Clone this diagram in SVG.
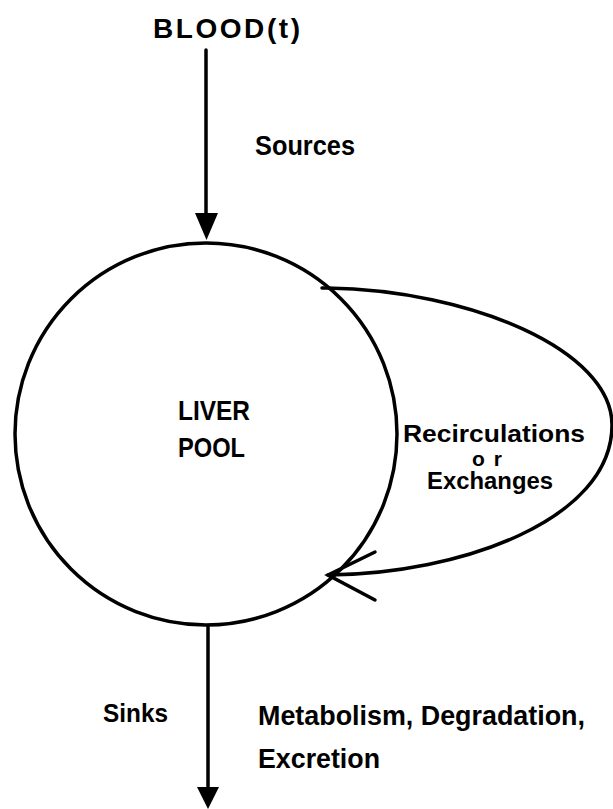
<svg xmlns="http://www.w3.org/2000/svg" width="613" height="809" viewBox="0 0 613 809">
<style>
.ln{fill:none;stroke:#000;stroke-width:3.5;stroke-linecap:round}
.t{font-family:"Liberation Sans",Arial,sans-serif;fill:#000;font-weight:bold}
</style>
<rect width="613" height="809" fill="#fff"/>
<g id="blood"><text class="t" x="153" y="38" font-size="28" textLength="147" lengthAdjust="spacing">BLOOD(t)</text></g>
<g id="liver">
<circle class="ln" cx="206" cy="434" r="191"/>
<text class="t" x="178" y="420" font-size="28" textLength="72" lengthAdjust="spacingAndGlyphs">LIVER</text>
<text class="t" x="178" y="457" font-size="28" textLength="67" lengthAdjust="spacingAndGlyphs">POOL</text>
</g>
<g id="connectors">
<line class="ln" x1="206" y1="50" x2="206" y2="215"/>
<path d="M195,213 L218,213 L206.5,240 Z" fill="#000"/>
<line class="ln" x1="208" y1="627" x2="208" y2="790"/>
<path d="M197,787 L219,787 L208,809 Z" fill="#000"/>
<path class="ln" d="M322,288 L327,288 C470,290 612,350 612,425 C612,520 460,574 328,575"/>
<path class="ln" stroke-width="4" d="M375,552 L328,575 L375,600"/>
</g>
<g id="labels">
<text class="t" x="255" y="155" font-size="27" textLength="100" lengthAdjust="spacingAndGlyphs">Sources</text>
<text class="t" x="403" y="442" font-size="24" textLength="182" lengthAdjust="spacingAndGlyphs">Recirculations</text>
<text class="t" x="472" y="466" font-size="21" textLength="30" lengthAdjust="spacing">or</text>
<text class="t" x="427" y="489" font-size="23" textLength="126" lengthAdjust="spacingAndGlyphs">Exchanges</text>
<text class="t" x="103" y="722" font-size="26" textLength="65" lengthAdjust="spacingAndGlyphs">Sinks</text>
<text class="t" x="258" y="725" font-size="28" textLength="327" lengthAdjust="spacingAndGlyphs">Metabolism, Degradation,</text>
<text class="t" x="258" y="768" font-size="27" textLength="122" lengthAdjust="spacingAndGlyphs">Excretion</text>
</g>
</svg>
